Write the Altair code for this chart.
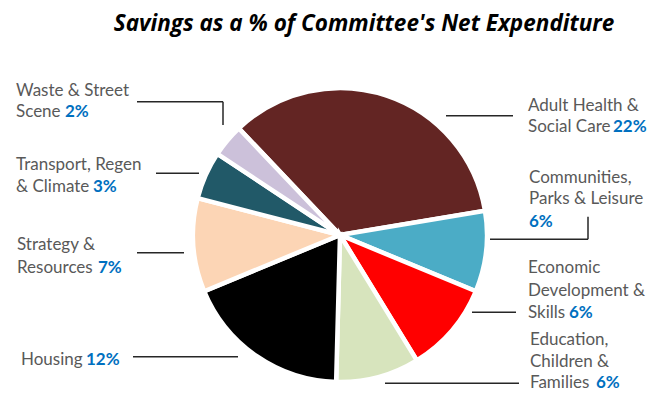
import math
import altair as alt
import pandas as pd

# ---------------- data ----------------
committees = [
    "Adult Health & Social Care",
    "Communities, Parks & Leisure",
    "Economic Development & Skills",
    "Education, Children & Families",
    "Housing",
    "Strategy & Resources",
    "Transport, Regen & Climate",
    "Waste & Street Scene",
]
slice_size = [124, 32, 36, 33, 66, 37, 19, 13]   # estimated slice sizes (degrees of the pie)
savings_pct = ["22%", "6%", "6%", "6%", "12%", "7%", "3%", "2%"]
label_lines = [
    ["Adult Health &", "Social Care"],
    ["Communities,", "Parks & Leisure"],
    ["Economic", "Development &", "Skills"],
    ["Education,", "Children &", "Families"],
    ["Housing"],
    ["Strategy &", "Resources"],
    ["Transport, Regen", "& Climate"],
    ["Waste & Street", "Scene"],
]
title_text = "Savings as a % of Committee's Net Expenditure"

# ---------------- styles / layout ----------------
colors = ["#632523", "#4BACC6", "#FF0000", "#D7E4BD", "#000000", "#FCD5B5", "#215968", "#CCC1DA"]
OFF = 8  # page margin
W, H = 650, 384
CX, CY, R = 340 - OFF, 235 - OFF, 147
START = math.radians(-43.5)
FONT = "Lato"
TXT_SIZE = 17
TXT_COLOR = "#595959"
PCT_COLOR = "#0070C0"

# label layout in page pixels: text x, baselines per line, pct x, pct baseline
label_layout = [
    (528, [110.7, 132.3], 613, 132.3),
    (529, [182.7, 204.0], 529, 226.7),
    (528, [273.3, 296.0, 318.0], 569, 318.0),
    (530, [345.0, 367.0, 388.0], 596, 388.0),
    (21, [365.0], 86, 365.0),
    (17, [250.0, 272.7], 98, 272.7),
    (16, [170.0, 191.7], 93, 191.7),
    (16, [95.5, 117.3], 65, 117.3),
]
leader_segments = [
    (446, 115.7, 513, 115.7),
    (490, 239.3, 588, 239.3), (588, 239.3, 588, 216.7),
    (472, 312.3, 516, 312.3),
    (385, 383.3, 519, 383.3),
    (133, 356.7, 238, 356.7),
    (137, 252.7, 184, 252.7),
    (156, 173.3, 199, 173.3),
    (137, 101.7, 223, 101.7), (223, 101.7, 223, 125),
]

# ---------------- tables ----------------
pie_df = pd.DataFrame({"committee": committees, "size": slice_size, "idx": range(len(committees))})

text_rows, pct_rows = [], []
for lines, (tx, ys, px, py), pct in zip(label_lines, label_layout, savings_pct):
    for t, y in zip(lines, ys):
        text_rows.append({"t": t, "x": tx - OFF, "y": y - OFF})
    pct_rows.append({"t": pct, "x": px - OFF, "y": py - OFF})
text_df = pd.DataFrame(text_rows)
pct_df = pd.DataFrame(pct_rows)
seg_df = pd.DataFrame([{"x": a - OFF, "y": b - OFF, "x2": c - OFF, "y2": d - OFF}
                       for a, b, c, d in leader_segments])
title_df = pd.DataFrame({"t": [title_text]})

# ---------------- charts ----------------
pie = alt.Chart(pie_df).mark_arc(radius=R, stroke="white", strokeWidth=4.5).encode(
    theta=alt.Theta("size:Q", stack=True, scale=alt.Scale(range=[START, START + 2 * math.pi])),
    order=alt.Order("idx:Q"),
    color=alt.Color("committee:N", scale=alt.Scale(domain=committees, range=colors), legend=None),
    x=alt.value(CX),
    y=alt.value(CY),
)

leaders = alt.Chart(seg_df).mark_rule(color="#262626", strokeWidth=1.5).encode(
    x=alt.X("x:Q", scale=None), y=alt.Y("y:Q", scale=None),
    x2="x2:Q", y2="y2:Q",
)

names = alt.Chart(text_df).mark_text(
    align="left", baseline="alphabetic", font=FONT, fontSize=TXT_SIZE, color=TXT_COLOR
).encode(x=alt.X("x:Q", scale=None), y=alt.Y("y:Q", scale=None), text="t:N")

pcts = alt.Chart(pct_df).mark_text(
    align="left", baseline="alphabetic", font=FONT, fontSize=TXT_SIZE, fontWeight="bold", color=PCT_COLOR
).encode(x=alt.X("x:Q", scale=None), y=alt.Y("y:Q", scale=None), text="t:N")

title = alt.Chart(title_df).mark_text(
    align="center", baseline="alphabetic", font="Open Sans", fontSize=22.5, fontWeight="bold",
    fontStyle="italic", color="#000000"
).encode(x=alt.value(364 - OFF), y=alt.value(30.5 - OFF), text="t:N")

chart = alt.layer(pie, leaders, names, pcts, title).properties(
    width=W, height=H, padding=0, autosize=alt.AutoSizeParams(type="none")
).configure_view(stroke=None)

chart.save("out.html", embed_options={"renderer": "svg", "actions": False})
